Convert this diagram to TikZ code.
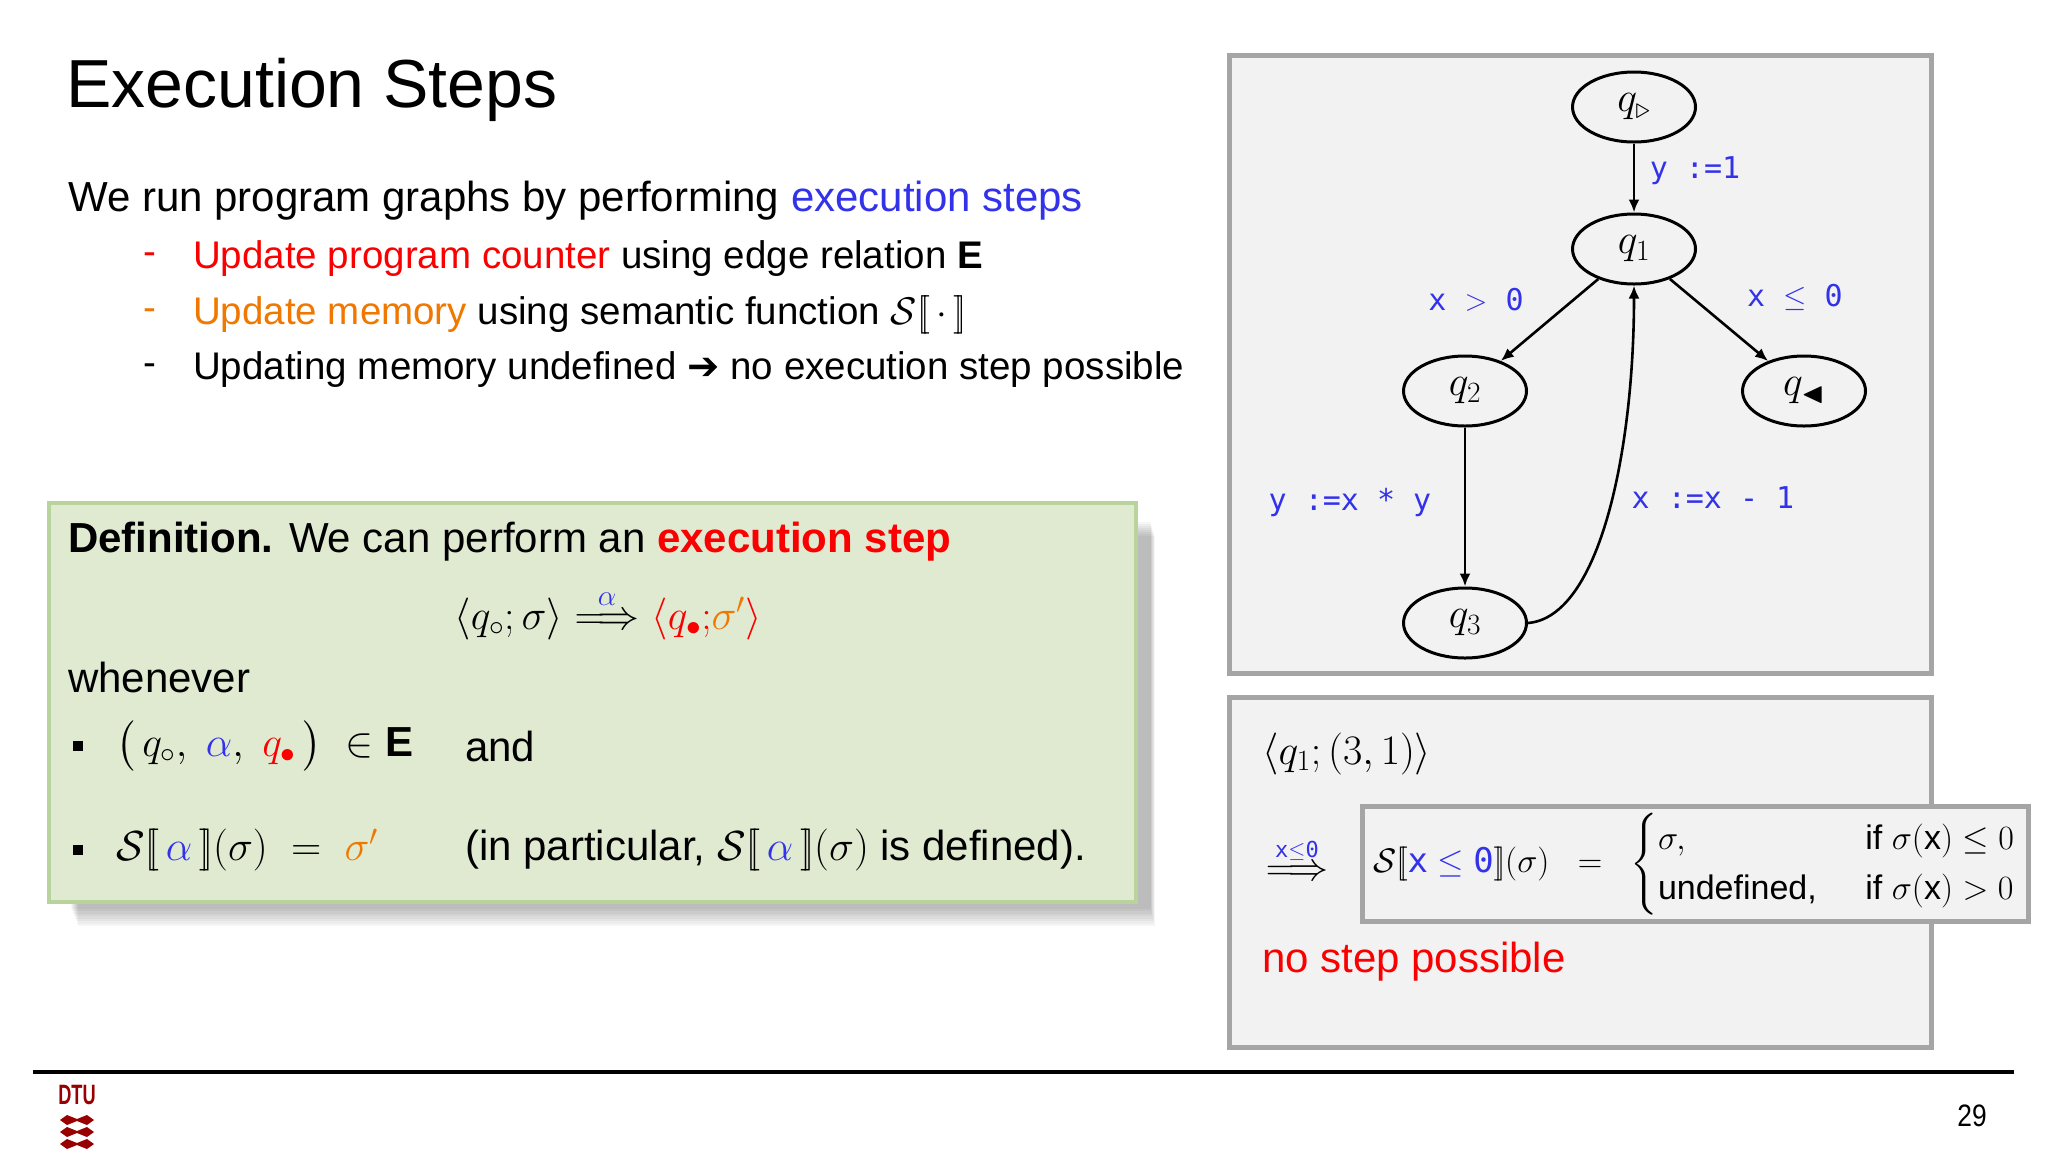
\RequirePackage{fix-cm}
\documentclass[tikz,border=0pt]{standalone}
\usepackage{amsmath,amssymb}
\usepackage[no-math]{fontspec}
\setmainfont{Liberation Sans}
\setmonofont{DejaVu Sans Mono}
\newfontfamily\dejavu{DejaVu Sans}
\usetikzlibrary{arrows.meta,shapes.geometric}
\definecolor{myblue}{RGB}{50,50,235}
\definecolor{myred}{RGB}{250,0,0}
\definecolor{myorange}{RGB}{240,120,0}
\definecolor{boxgray}{RGB}{242,242,242}
\definecolor{edgegray}{RGB}{165,165,165}
\definecolor{greenfill}{RGB}{224,234,209}
\definecolor{greenedge}{RGB}{184,212,156}
\definecolor{dtured}{RGB}{153,0,0}
\newcommand{\sembr}[1]{\mathopen{[\![}#1\mathclose{]\!]}}
\tikzset{
  body/.style={anchor=west,inner sep=0,font=\fontsize{42}{50}\selectfont},
  sub/.style={anchor=west,inner sep=0,font=\fontsize{38.5}{46}\selectfont},
  state/.style={ellipse,draw,line width=3pt,minimum width=123pt,minimum height=70pt,inner sep=0,font=\fontsize{42}{48}\selectfont},
  elab/.style={inner sep=0,font=\fontsize{30}{36}\selectfont\ttfamily,text=myblue},
  edge/.style={-{Latex[length=13pt,width=11pt]},line width=2.6pt},
  panel/.style={fill=boxgray,draw=edgegray,line width=5pt},
  sq/.style={fill=black,inner sep=0,minimum size=10pt}
}
\begin{document}
\begin{tikzpicture}[x=1pt,y=-1pt]
\useasboundingbox[fill=white] (0,0) rectangle (2048,1152);
% title and intro
\node[anchor=west,inner sep=0,font=\fontsize{68}{80}\selectfont] (title) at (66,90) {Execution Steps};
\node[body] (intro) at (68,201) {We run program graphs by performing \textcolor{myblue}{execution steps}};
\node[sub,text=myred] (d1) at (143,259) {-};
\node[sub] (l1) at (193,259) {\textcolor{myred}{Update program counter} using edge relation \textbf{E}};
\node[sub,text=myorange] (d2) at (143,315) {-};
\node[sub] (l2) at (193,315) {\textcolor{myorange}{Update memory} using semantic function $\mathcal{S}\sembr{\,\cdot\,}$};
\node[sub] (d3) at (143,370) {-};
\node[sub] (l3) at (193,370) {Updating memory undefined {\dejavu ➔} no execution step possible};
% green definition box with shadow
\foreach \i in {1,...,8}
  \fill[black,opacity=0.035] (70+\i,520+2*\i) rectangle (1150+0.6*\i,906+2.5*\i);
\draw[fill=greenfill,draw=greenedge,line width=4pt] (49,503) rectangle (1136,902);
\node[body] (def) at (68,542) {\textbf{Definition.} We can perform an \textcolor{myred}{\textbf{execution step}}};
\node[inner sep=0,font=\fontsize{42}{50}\selectfont] (form) at (608,614)
  {$\langle q_\circ;\sigma\rangle \overset{\textcolor{myblue}{\alpha}}{\Longrightarrow} \textcolor{myred}{\langle q_\bullet;}\textcolor{myorange}{\sigma'}\textcolor{myred}{\rangle}$};
\node[body] (when) at (68,677) {whenever};
\node[sq] (b1) at (78,746) {};
\node[body] (t1) at (116,746) {$\bigl(\,q_\circ,\ \textcolor{myblue}{\alpha},\ \textcolor{myred}{q_\bullet}\,\bigr)\ \in\ $\textbf{E}};
\node[body] (t1b) at (465,746) {and};
\node[sq] (b2) at (78,850) {};
\node[body] (t2) at (116,850) {$\mathcal{S}\sembr{\,\textcolor{myblue}{\alpha}\,}(\sigma)\ =\ \textcolor{myorange}{\sigma'}$};
\node[body] (t2b) at (465,850) {(in particular, $\mathcal{S}\sembr{\,\textcolor{myblue}{\alpha}\,}(\sigma)$ is defined).};
% graph panel
\draw[panel] (1229,55) rectangle (1931,673);
\node[state] (qs) at (1634,107) {$q_{\triangleright}$};
\node[state] (q1) at (1634,249) {$q_1$};
\node[state] (q2) at (1465,391) {$q_2$};
\node[state] (qe) at (1804,391) {$q_{\blacktriangleleft}$};
\node[state] (q3) at (1465,623) {$q_3$};
\draw[edge] (qs) -- (q1);
\draw[edge] (q1) -- (q2);
\draw[edge] (q1) -- (qe);
\draw[edge] (q2) -- (q3);
\draw[edge] (q3.east) .. controls (1600,617) and (1634,450) .. (q1.south);
\node[elab] (l_s1) at (1695,171) {y :=1};
\node[elab] (l_12) at (1476,300) {x $>$ 0};
\node[elab] (l_1e) at (1795,297) {x $\leq$ 0};
\node[elab] (l_23) at (1350,502) {y :=x * y};
\node[elab] (l_31) at (1713,498) {x :=x - 1};
% bottom panel
\draw[panel] (1229,697) rectangle (1931,1047);
\node[anchor=west,inner sep=0,font=\fontsize{42}{48}\selectfont] (cfg) at (1262,754) {$\langle q_1;(3,1)\rangle$};
\node[inner sep=0,font=\fontsize{40}{48}\selectfont] (arr) at (1297,859) {$\overset{\textcolor{myblue}{\texttt{\fontsize{22}{24}\selectfont x$\leq$0}}}{\Longrightarrow}$};
\draw[panel] (1362,806) rectangle (2028,921);
\node[anchor=west,inner sep=0,font=\fontsize{34}{40}\selectfont] (sem) at (1373,864)
 {\renewcommand{\arraystretch}{1.25}$\mathcal{S}\sembr{\textcolor{myblue}{\texttt{x}\leq\texttt{0}}}(\sigma)\ \ =\ \ \left\{\begin{array}{@{}l@{}l@{}}\makebox[6.1em][l]{$\sigma,$} & \text{if } \sigma(\text{x})\leq 0\\ \makebox[6.1em][l]{undefined,} & \text{if } \sigma(\text{x})> 0\end{array}\right.$};
\node[anchor=west,inner sep=0,font=\fontsize{42}{50}\selectfont,text=myred] (nostep) at (1262,962) {no step possible};
% footer
\draw[line width=4pt] (33,1072) -- (2014,1072);
\node[inner sep=0,font=\fontsize{28}{30}\selectfont\bfseries,text=dtured,xscale=0.65] (dtu) at (77,1095) {DTU};
\foreach \k in {0,1,2} {
  \fill[dtured] (60,1120+12*\k) -- (67,1115+12*\k) -- (77,1119+12*\k) -- (87,1115+12*\k) -- (94,1120+12*\k) -- (87,1125+12*\k) -- (77,1121+12*\k) -- (67,1125+12*\k) -- cycle;
}
\node[inner sep=0,font=\fontsize{31}{34}\selectfont,xscale=0.85] (pg) at (1972,1116) {29};
\end{tikzpicture}
\end{document}
